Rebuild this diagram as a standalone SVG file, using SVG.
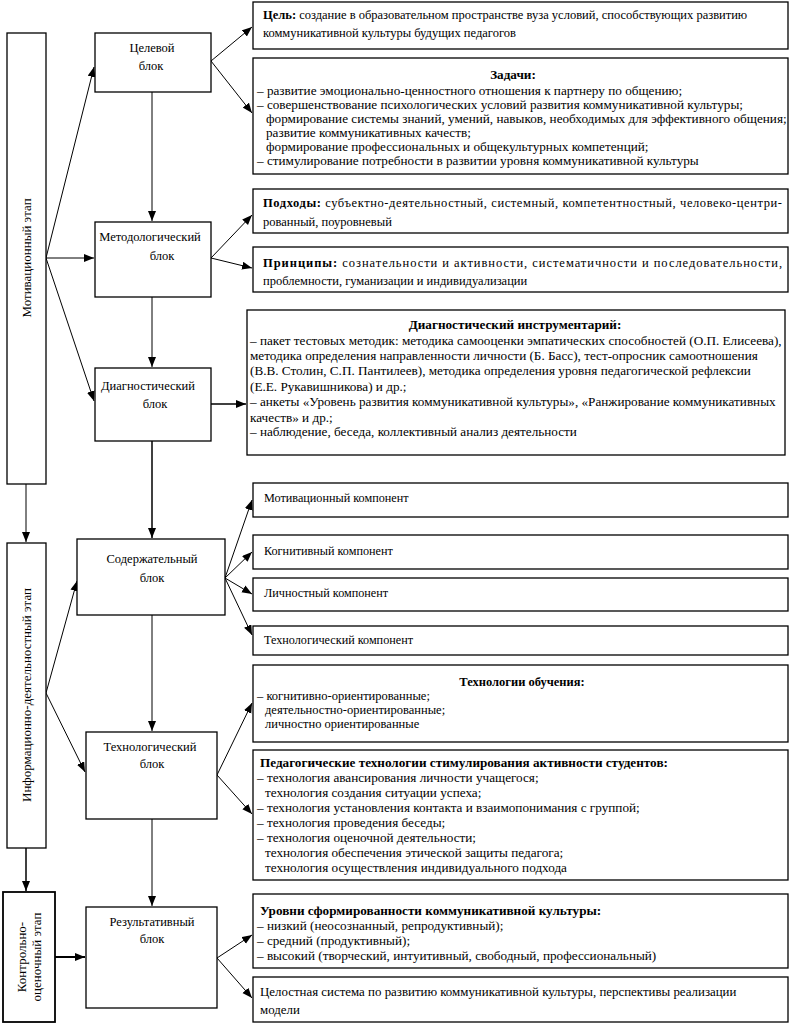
<svg xmlns="http://www.w3.org/2000/svg" width="793" height="1024" viewBox="0 0 793 1024">
<style>
rect{fill:#fff;stroke:#000;stroke-width:1.3}
text{font-family:"Liberation Serif","Times New Roman",serif;font-size:12.5px;fill:#000}
.c{text-anchor:middle}
.b{font-weight:bold}
.st{font-size:13px}
.l{font-size:13.2px}
.m{font-size:12.9px}
.s{font-size:12.2px}
#connectors line{stroke:#000;stroke-width:1;fill:none}
</style>
<defs>
<marker id="ah" markerUnits="userSpaceOnUse" markerWidth="11" markerHeight="9" refX="10" refY="4" orient="auto">
<path d="M0,0 L10,4 L0,8 z" fill="#000"/>
</marker>
</defs>
<rect x="0" y="0" width="793" height="1024" style="fill:#fff;stroke:none"/>

<g id="connectors">
<line x1="211" y1="61" x2="252" y2="27" marker-end="url(#ah)"/>
<line x1="211" y1="61" x2="252" y2="113" marker-end="url(#ah)"/>
<line x1="211" y1="258" x2="252" y2="215" marker-end="url(#ah)"/>
<line x1="211" y1="258" x2="252" y2="268" marker-end="url(#ah)"/>
<line x1="211" y1="404" x2="246" y2="404" marker-end="url(#ah)" style="stroke-width:1.5"/>
<line x1="225" y1="578" x2="252" y2="500" marker-end="url(#ah)"/>
<line x1="225" y1="578" x2="252" y2="552" marker-end="url(#ah)"/>
<line x1="225" y1="578" x2="252" y2="594" marker-end="url(#ah)"/>
<line x1="225" y1="578" x2="252" y2="635" marker-end="url(#ah)"/>
<line x1="217" y1="775" x2="252" y2="703" marker-end="url(#ah)"/>
<line x1="217" y1="775" x2="252" y2="814" marker-end="url(#ah)"/>
<line x1="217" y1="958" x2="252" y2="935" marker-end="url(#ah)"/>
<line x1="217" y1="958" x2="252" y2="998" marker-end="url(#ah)"/>
<line x1="152" y1="92" x2="152" y2="221" marker-end="url(#ah)"/>
<line x1="152" y1="297" x2="152" y2="367" marker-end="url(#ah)"/>
<line x1="152" y1="441" x2="152" y2="538" marker-end="url(#ah)" style="stroke-width:1.5"/>
<line x1="152" y1="615" x2="152" y2="731" marker-end="url(#ah)"/>
<line x1="152" y1="819" x2="152" y2="906" marker-end="url(#ah)"/>
<line x1="46" y1="258" x2="94" y2="67" marker-end="url(#ah)"/>
<line x1="46" y1="258" x2="94" y2="258" marker-end="url(#ah)"/>
<line x1="46" y1="258" x2="94" y2="401" marker-end="url(#ah)"/>
<line x1="26" y1="484" x2="26" y2="542" marker-end="url(#ah)"/>
<line x1="46" y1="693" x2="77" y2="581" marker-end="url(#ah)"/>
<line x1="46" y1="693" x2="85" y2="772" marker-end="url(#ah)"/>
<line x1="26" y1="848" x2="26" y2="891" marker-end="url(#ah)" style="stroke-width:1.5"/>
<line x1="55" y1="957" x2="85" y2="957" marker-end="url(#ah)" style="stroke-width:2"/>
</g>

<g id="stage1"><rect x="7" y="33" width="39" height="451"/>
<text class="c st" transform="translate(31,258) rotate(-90)">Мотивационный этап</text></g>
<g id="stage2"><rect x="7" y="543" width="39" height="305"/>
<text class="c st" transform="translate(31,695) rotate(-90)">Информационно-деятельностный этап</text></g>
<g id="stage3"><rect x="3" y="892" width="52" height="130" style="stroke-width:1.8"/>
<text class="c st" transform="translate(26,957) rotate(-90)">Контрольно-</text>
<text class="c st" transform="translate(41,957) rotate(-90)">оценочный этап</text></g>

<g id="celevoy"><rect x="95" y="33" width="116" height="59"/>
<text class="c" x="152" y="52">Целевой</text><text class="c" x="151" y="70">блок</text></g>
<g id="metod"><rect x="95" y="222" width="116" height="75"/>
<text class="c" x="150" y="241">Методологический</text><text class="c" x="162" y="260">блок</text></g>
<g id="diag"><rect x="95" y="368" width="116" height="73"/>
<text class="c" x="148" y="390">Диагностический</text><text class="c" x="155" y="408">блок</text></g>
<g id="soderzh"><rect x="77" y="539" width="148" height="76"/>
<text class="c" x="152" y="563">Содержательный</text><text class="c" x="152" y="582">блок</text></g>
<g id="tehnol"><rect x="86" y="732" width="131" height="87"/>
<text class="c" x="150" y="751">Технологический</text><text class="c" x="152" y="768">блок</text></g>
<g id="result"><rect x="86" y="907" width="131" height="101"/>
<text class="c" x="152" y="926">Результативный</text><text class="c" x="152" y="943">блок</text></g>

<g id="cel"><rect x="253" y="2" width="535" height="47"/>
<text x="263" y="19"><tspan class="b">Цель:</tspan> создание в образовательном пространстве вуза условий, способствующих развитию</text>
<text x="263" y="37">коммуникативной культуры будущих педагогов</text></g>

<g id="zadachi"><rect x="253" y="58" width="535" height="116"/>
<text class="c b l" x="513" y="79">Задачи:</text>
<text class="l" x="257" y="95">– развитие эмоционально-ценностного отношения к партнеру по общению;</text>
<text class="l" x="257" y="109">– совершенствование психологических условий развития коммуникативной культуры;</text>
<text class="l" x="266" y="123">формирование системы знаний, умений, навыков, необходимых для эффективного общения;</text>
<text class="l" x="266" y="137">развитие коммуникативных качеств;</text>
<text class="l" x="266" y="151">формирование профессиональных и общекультурных компетенций;</text>
<text class="l" x="257" y="165">– стимулирование потребности в развитии уровня коммуникативной культуры</text></g>

<g id="podhody"><rect x="253" y="189" width="535" height="44"/>
<text x="263" y="207" textLength="519" lengthAdjust="spacing"><tspan class="b">Подходы:</tspan> субъектно-деятельностный, системный, компетентностный, человеко-центри-</text>
<text x="263" y="226">рованный, поуровневый</text></g>

<g id="principy"><rect x="253" y="247" width="535" height="45"/>
<text x="263" y="267" textLength="519" lengthAdjust="spacing"><tspan class="b">Принципы:</tspan> сознательности и активности, систематичности и последовательности,</text>
<text x="263" y="285">проблемности, гуманизации и индивидуализации</text></g>

<g id="instr"><rect x="247" y="310" width="538" height="145"/>
<text class="c b l" x="515" y="329">Диагностический инструментарий:</text>
<text class="l" x="250" y="345">– пакет тестовых методик: методика самооценки эмпатических способностей (О.П. Елисеева),</text>
<text class="l" x="250" y="360">методика определения направленности личности (Б. Басс), тест-опросник самоотношения</text>
<text class="l" x="250" y="375">(В.В. Столин, С.П. Пантилеев), методика определения уровня педагогической рефлексии</text>
<text class="l" x="250" y="391">(Е.Е. Рукавишникова) и др.;</text>
<text class="l" x="250" y="406">– анкеты «Уровень развития коммуникативной культуры», «Ранжирование коммуникативных</text>
<text class="l" x="250" y="422">качеств» и др.;</text>
<text class="l" x="250" y="436">– наблюдение, беседа, коллективный анализ деятельности</text></g>

<g id="k1"><rect x="253" y="483" width="535" height="34"/><text class="s" x="264" y="502">Мотивационный компонент</text></g>
<g id="k2"><rect x="253" y="535" width="535" height="34"/><text class="s" x="264" y="555">Когнитивный компонент</text></g>
<g id="k3"><rect x="253" y="578" width="535" height="33"/><text class="s" x="264" y="597">Личностный компонент</text></g>
<g id="k4"><rect x="253" y="626" width="535" height="29"/><text class="s" x="264" y="644">Технологический компонент</text></g>

<g id="tob"><rect x="253" y="665" width="535" height="77"/>
<text class="c b" x="522" y="686">Технологии обучения:</text>
<text x="257" y="700">– когнитивно-ориентированные;</text>
<text x="265" y="714">деятельностно-ориентированные;</text>
<text x="265" y="728">личностно ориентированные</text></g>

<g id="ped"><rect x="253" y="750" width="535" height="130"/>
<text class="b l" x="260" y="767">Педагогические технологии стимулирования активности студентов:</text>
<text class="l" x="257" y="782">– технология авансирования личности учащегося;</text>
<text class="l" x="265" y="797">технология создания ситуации успеха;</text>
<text class="l" x="257" y="812">– технология установления контакта и взаимопонимания с группой;</text>
<text class="l" x="257" y="827">– технология проведения беседы;</text>
<text class="l" x="257" y="842">– технология оценочной деятельности;</text>
<text class="l" x="265" y="857">технология обеспечения этической защиты педагога;</text>
<text class="l" x="265" y="872">технология осуществления индивидуального подхода</text></g>

<g id="urovni"><rect x="253" y="894" width="535" height="74"/>
<text class="b l" x="260" y="915">Уровни сформированности коммуникативной культуры:</text>
<text class="l" x="257" y="930">– низкий (неосознанный, репродуктивный);</text>
<text class="l" x="257" y="945">– средний (продуктивный);</text>
<text class="l" x="257" y="960">– высокий (творческий, интуитивный, свободный, профессиональный)</text></g>

<g id="cel2"><rect x="253" y="977" width="535" height="45"/>
<text class="m" x="260" y="996">Целостная система по развитию коммуникативной культуры, перспективы реализации</text>
<text class="m" x="260" y="1014">модели</text></g>
</svg>
